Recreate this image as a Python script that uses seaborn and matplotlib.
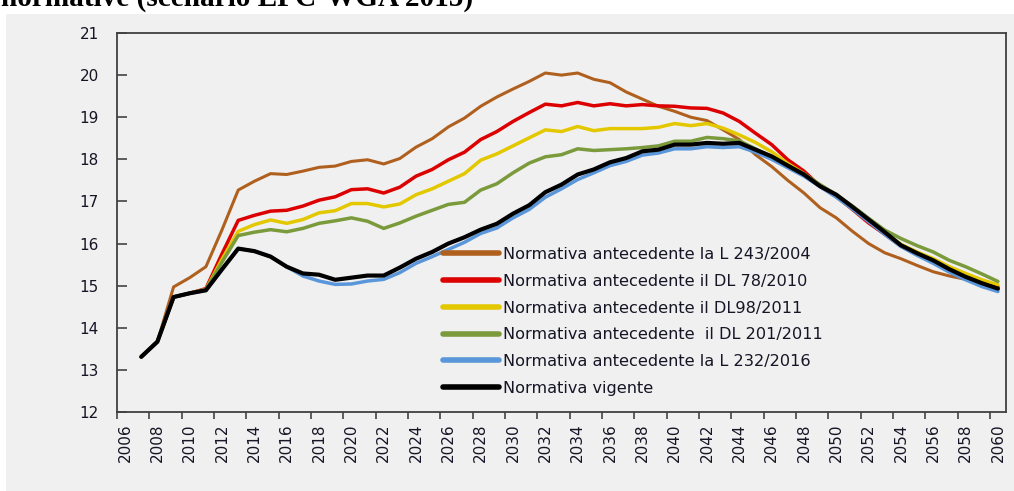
import numpy as np
import pandas as pd
import matplotlib
matplotlib.use("Agg")
import matplotlib.pyplot as plt
from matplotlib.patches import Rectangle
from matplotlib.ticker import FixedLocator
import seaborn as sns

years = list(range(2007, 2061))

labels = [
    "Normativa antecedente la L 243/2004",
    "Normativa antecedente il DL 78/2010",
    "Normativa antecedente il DL98/2011",
    "Normativa antecedente  il DL 201/2011",
    "Normativa antecedente la L 232/2016",
    "Normativa vigente",
]

l243_2004 = [13.31, 13.67, 14.97, 15.19, 15.45, 16.33, 17.27, 17.48, 17.66, 17.64,
             17.72, 17.81, 17.84, 17.95, 17.99, 17.89, 18.02, 18.29, 18.49, 18.77,
             18.98, 19.26, 19.48, 19.67, 19.85, 20.05, 20.00, 20.05, 19.90, 19.82,
             19.60, 19.43, 19.26, 19.14, 19.00, 18.92, 18.70, 18.47, 18.11, 17.83,
             17.50, 17.20, 16.85, 16.61, 16.29, 16.00, 15.78, 15.64, 15.48, 15.33,
             15.23, 15.15, 15.03, 14.90]

dl78_2010 = [13.31, 13.67, 14.73, 14.82, 14.93, 15.76, 16.55, 16.67, 16.77, 16.79,
             16.89, 17.03, 17.11, 17.28, 17.30, 17.20, 17.34, 17.60, 17.76, 17.99,
             18.17, 18.47, 18.66, 18.90, 19.11, 19.31, 19.27, 19.35, 19.27, 19.32,
             19.27, 19.30, 19.27, 19.26, 19.22, 19.21, 19.10, 18.90, 18.62, 18.35,
             17.99, 17.72, 17.36, 17.12, 16.81, 16.49, 16.22, 15.94, 15.75, 15.60,
             15.40, 15.25, 15.10, 14.97]

dl98_2011 = [13.31, 13.67, 14.73, 14.82, 14.91, 15.63, 16.29, 16.45, 16.56, 16.48,
             16.57, 16.73, 16.78, 16.95, 16.95, 16.87, 16.94, 17.16, 17.30, 17.48,
             17.66, 17.98, 18.13, 18.32, 18.51, 18.70, 18.66, 18.78, 18.68, 18.73,
             18.73, 18.73, 18.76, 18.85, 18.80, 18.85, 18.74, 18.58, 18.40, 18.18,
             17.90, 17.66, 17.38, 17.12, 16.85, 16.56, 16.26, 15.98, 15.80, 15.64,
             15.45, 15.29, 15.14, 15.02]

dl201_2011 = [13.31, 13.67, 14.73, 14.82, 14.91, 15.56, 16.19, 16.27, 16.33, 16.28,
              16.36, 16.48, 16.54, 16.61, 16.53, 16.36, 16.49, 16.65, 16.79, 16.93,
              16.98, 17.27, 17.42, 17.68, 17.91, 18.06, 18.11, 18.25, 18.21, 18.23,
              18.25, 18.28, 18.32, 18.43, 18.43, 18.52, 18.49, 18.44, 18.25, 18.06,
              17.86, 17.65, 17.40, 17.16, 16.89, 16.60, 16.32, 16.12, 15.95, 15.80,
              15.60, 15.45, 15.28, 15.10]

l232_2016 = [13.31, 13.67, 14.73, 14.82, 14.89, 15.39, 15.88, 15.82, 15.69, 15.45,
             15.23, 15.11, 15.03, 15.04, 15.11, 15.15, 15.31, 15.53, 15.69, 15.86,
             16.03, 16.24, 16.37, 16.61, 16.81, 17.10, 17.30, 17.52, 17.68, 17.85,
             17.95, 18.10, 18.15, 18.25, 18.25, 18.30, 18.28, 18.30, 18.17, 18.00,
             17.80, 17.60, 17.35, 17.10, 16.82, 16.52, 16.22, 15.93, 15.72, 15.53,
             15.32, 15.14, 14.98, 14.86]

vigente = [13.31, 13.67, 14.73, 14.82, 14.89, 15.39, 15.88, 15.82, 15.69, 15.45,
           15.29, 15.26, 15.14, 15.19, 15.24, 15.24, 15.43, 15.64, 15.80, 16.00,
           16.15, 16.33, 16.47, 16.71, 16.91, 17.22, 17.40, 17.64, 17.76, 17.93,
           18.03, 18.19, 18.23, 18.35, 18.35, 18.39, 18.37, 18.39, 18.23, 18.07,
           17.85, 17.64, 17.36, 17.16, 16.87, 16.57, 16.27, 15.96, 15.77, 15.60,
           15.39, 15.21, 15.06, 14.93]

series = [l243_2004, dl78_2010, dl98_2011, dl201_2011, l232_2016, vigente]
colors = ["#B0601E", "#DC0000", "#E3C800", "#7A9A3C", "#5A96DA", "#000000"]
widths = [2.2, 2.5, 2.5, 2.5, 2.5, 3.0]

y_ticks = list(range(12, 22))
x_tick_labels = list(range(2006, 2061, 2))

W, H, DPI = 1014, 491, 100
sns.set_theme(style="white")
plt.rcParams["font.family"] = ["DejaVu Sans"]

fig = plt.figure(figsize=(W / DPI, H / DPI), dpi=DPI, facecolor="white")
bg = fig.add_axes([0, 0, 1, 1], zorder=-10)
bg.set_axis_off()
bg.set_xlim(0, W)
bg.set_ylim(H, 0)
bg.add_patch(Rectangle((6, 14), W, H, facecolor="#f0f0f0", edgecolor="none"))

ax = fig.add_axes([117 / W, 1 - 412 / H, (1006 - 117) / W, (412 - 33) / H], zorder=1)
ax.set_facecolor("#f0f0f0")

df = pd.DataFrame({"year": np.tile(years, len(labels)),
                   "value": np.concatenate(series),
                   "serie": np.repeat(labels, len(years))})

for lab, col, lw in zip(labels, colors, widths):
    sub = df[df["serie"] == lab]
    sns.lineplot(data=sub, x="year", y="value", color=col, linewidth=lw,
                 label=lab, ax=ax, solid_capstyle="round", solid_joinstyle="round")

ax.set_xlim(2005.5, 2060.5)
ax.set_ylim(12, 21)
ax.set_xlabel("")
ax.set_ylabel("")

ax.set_yticks(y_ticks)
ax.set_yticklabels([str(v) for v in y_ticks])
ax.tick_params(axis="y", direction="in", length=7, width=1.2, color="#444444",
               pad=13, labelsize=11, labelcolor="#151525", left=True)

ax.set_xticks(x_tick_labels)
ax.set_xticklabels([str(v) for v in x_tick_labels], rotation=90)
ax.xaxis.set_minor_locator(FixedLocator([y - 0.5 for y in x_tick_labels]))
ax.tick_params(axis="x", which="major", length=0, pad=8, labelsize=11,
               labelcolor="#151525")
ax.tick_params(axis="x", which="minor", direction="out", length=5, width=1.2,
               color="#444444", bottom=True)

for s in ax.spines.values():
    s.set_visible(True)
    s.set_color("#404040")
    s.set_linewidth(1.3)

leg = ax.legend(loc="upper left", bbox_to_anchor=(443 / W, 1 - 247 / H),
                bbox_transform=fig.transFigure, frameon=False, fontsize=11.6,
                handlelength=3.5, handletextpad=0.25, labelspacing=0.73,
                borderpad=0, borderaxespad=0)
for t in leg.get_texts():
    t.set_color("#151525")
for h in leg.get_lines():
    h.set_linewidth(4)

# cut-off heading from the source document
title = fig.text(1 / W, 1 - 6 / H, "normative (scenario EPC-WGA 2015)",
                 family="Liberation Serif", fontweight="bold", fontsize=20,
                 va="baseline", ha="left", color="black")
r = fig.canvas.get_renderer()
w = title.get_window_extent(r).width
title.set_fontsize(20 * 472 / w)

fig.savefig("out.png", dpi=DPI, facecolor="white")
